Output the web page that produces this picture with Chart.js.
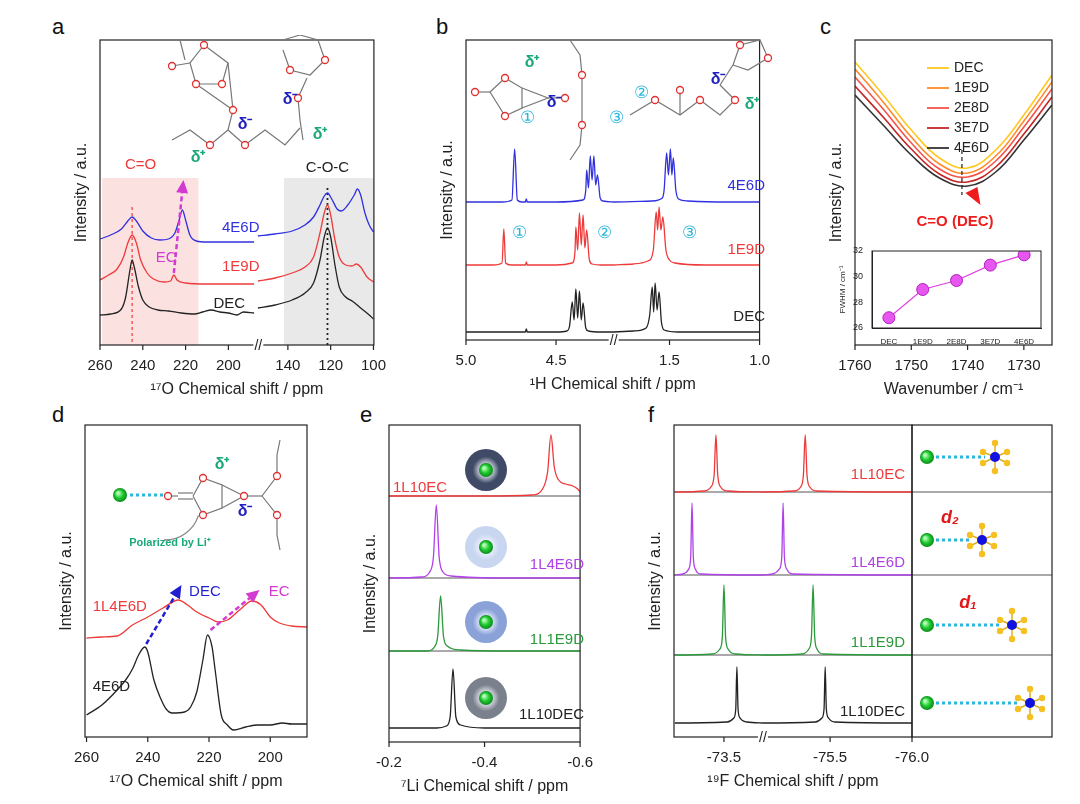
<!DOCTYPE html>
<html>
<head>
<meta charset="utf-8">
<script src="https://cdn.jsdelivr.net/npm/chart.js@4.4.1/dist/chart.umd.min.js"></script>
<style>
  body { margin: 0; width: 1080px; height: 804px; background: #fff; position: relative; overflow: hidden; font-family: "Liberation Sans", Arial, sans-serif; }
  canvas { position: absolute; }
  .lab { position: absolute; font-size: 22px; color: #111; }
</style>
</head>
<body>
<div class="lab" style="left:52px;top:14px">a</div>
<div class="lab" style="left:436px;top:14px">b</div>
<div class="lab" style="left:820px;top:14px">c</div>
<div class="lab" style="left:52px;top:402px">d</div>
<div class="lab" style="left:360px;top:402px">e</div>
<div class="lab" style="left:648px;top:402px">f</div>
<canvas id="ca" width="318" height="366" style="left:72px;top:35px"></canvas>
<canvas id="cb" width="336" height="361" style="left:438px;top:35px"></canvas>
<canvas id="cc" width="230" height="366" style="left:827px;top:35px"></canvas>
<canvas id="ci" width="210" height="100" style="left:838px;top:244px"></canvas>
<canvas id="cd" width="255" height="373" style="left:57px;top:420px"></canvas>
<canvas id="ce" width="236" height="378" style="left:361px;top:420px"></canvas>
<canvas id="cf" width="411" height="373" style="left:646px;top:420px"></canvas>
<script>
// ---------- data ----------
// panel a: 17O shift (ppm), left and right of the axis break
const aDEC_L = [[260,30],[255,31],[250,36],[248,48],[246,75],[245,85],[244,78],[242,58],[240,45],[237,38],[233,35],[228,34],[222,32],[216,31],[212,33],[208,35],[204,33],[200,32],[196,30],[193,33],[188,32]];
const aDEC_R = [[154,37],[146,40],[138,45],[132,52],[128,62],[125,85],[123,108],[121.5,117],[120,108],[118,80],[116,58],[113,48],[110,44],[106,37],[102,30],[100,26]];
const a1E9D_L = [[260,65],[256,70],[252,76],[249,88],[247,102],[245,110],[243,102],[241,85],[238,72],[235,66],[230,63],[227,64],[225.5,70],[224,65],[220,62],[210,61],[200,61],[188,61]];
const a1E9D_R = [[154,64],[146,67],[138,72],[132,78],[128,88],[125,112],[123,132],[121.5,140],[120,130],[118,105],[116,88],[113,80],[110,79],[108,81],[106,78],[103,68],[100,63]];
const a4E6D_L = [[260,106],[255,110],[250,116],[247,124],[245,128],[243,124],[240,114],[236,107],[232,105],[228,106],[225,112],[223,125],[221.5,135],[220,125],[218,110],[215,104],[210,103],[200,103],[188,103]];
const a4E6D_R = [[154,109],[146,111],[138,114],[132,120],[128,128],[125,140],[123,149],[121.5,152],[119.5,146],[117,136],[115,134],[112,140],[109,150],[107.5,156],[106,150],[104,132],[102,120],[100,113]];
const aTicks = [[260,"260"],[240,"240"],[220,"220"],[200,"200"],[140,"140"],[120,"120"],[100,"100"]];

// panel b: 1H shift (ppm)
const bDEC_L = [[5.0,8],[4.8,8],[4.67,8],[4.665,11],[4.66,8],[4.5,8],[4.44,9],[4.425,14],[4.41,38],[4.40,20],[4.39,51],[4.38,22],[4.37,49],[4.36,20],[4.35,37],[4.335,12],[4.32,9],[4.25,8],[4.18,8]];
const bDEC_R = [[1.81,8],[1.7,9],[1.63,12],[1.61,25],[1.596,53],[1.588,28],[1.58,57],[1.569,30],[1.558,48],[1.545,18],[1.53,10],[1.45,8],[1.3,8],[1.0,8]];
const b1E9D_L = [[5.0,75],[4.85,75],[4.80,77],[4.79,111],[4.78,77],[4.75,75],[4.67,75],[4.665,78],[4.66,75],[4.5,75],[4.41,77],[4.395,88],[4.39,113],[4.38,90],[4.37,127],[4.36,95],[4.35,125],[4.34,92],[4.33,110],[4.315,80],[4.3,76],[4.25,75],[4.18,75]];
const b1E9D_R = [[1.81,75],[1.7,76],[1.62,79],[1.59,90],[1.574,128],[1.566,110],[1.558,133],[1.548,110],[1.537,123],[1.52,90],[1.50,80],[1.47,77],[1.3,75],[1.0,75]];
const b4E6D_L = [[5.0,138],[4.8,138],[4.745,140],[4.73,191],[4.715,140],[4.69,138],[4.67,138],[4.665,141],[4.66,138],[4.5,138],[4.35,140],[4.335,150],[4.33,170],[4.32,152],[4.31,184],[4.30,160],[4.29,184],[4.28,155],[4.27,165],[4.255,142],[4.24,139],[4.18,138]];
const b4E6D_R = [[1.81,138],[1.6,139],[1.54,142],[1.53,150],[1.516,187],[1.506,165],[1.495,191],[1.487,165],[1.479,182],[1.465,150],[1.45,141],[1.4,139],[1.2,138],[1.0,138]];
const bTicks = [[5.0,"5.0"],[4.5,"4.5"],[1.5,"1.5"],[1.0,"1.0"]];

// panel c: FTIR
const cWave = [1760,1755,1750,1745,1740,1735,1730,1725];
const cDEC  = [283,250,215,187,177,195,230,270];
const c1E9D = [276,243,208,181,172,189,224,263];
const c2E8D = [268,236,202,176,168,184,218,256];
const c3E7D = [259,228,196,171,163,178,211,248];
const c4E6D = [250,220,190,167,159,173,205,240];
const cTicks = [1760,1750,1740,1730];
const iLabels = ["DEC","1E9D","2E8D","3E7D","4E6D"];
const iFWHM = [26.8,29.0,29.7,30.9,31.7];

// panel d: 17O shift
const d4E6D = [[260,22],[255,32],[250,47],[247,58],[245,68],[243,82],[241,90],[240,85],[238,57],[236,40],[234,28],[232,24],[228,25],[226,30],[224,45],[222,77],[220.5,102],[219,90],[218,67],[216,22],[214,12],[212,7],[208,10],[204,12],[200,12],[196,14],[193,13],[188,13]];
const d1L4E6D = [[260,99],[255,100],[250,101],[245,112],[240,120],[235,129],[230,137],[227,132],[224,125],[220,119],[217,115],[214,117],[210,127],[206,136],[203,132],[200,120],[197,114],[193,111],[188,110]];
const dTicks = [260,240,220,200];

// panel e: 7Li shift
const e1L10DEC = [[-0.2,14],[-0.3,14],[-0.32,16],[-0.328,25],[-0.334,73],[-0.34,25],[-0.35,17],[-0.4,14],[-0.5,14],[-0.6,14]];
const e1L1E9D = [[-0.2,91],[-0.28,91],[-0.295,95],[-0.302,106],[-0.308,146],[-0.314,106],[-0.322,96],[-0.35,92],[-0.45,91],[-0.6,91]];
const e1L4E6D = [[-0.2,164],[-0.27,165],[-0.285,170],[-0.293,185],[-0.299,237],[-0.305,185],[-0.313,170],[-0.33,166],[-0.45,164],[-0.6,164]];
const e1L10EC = [[-0.2,246],[-0.4,246],[-0.5,247],[-0.52,252],[-0.532,270],[-0.539,307],[-0.546,275],[-0.555,262],[-0.57,258],[-0.585,256],[-0.595,253],[-0.6,250]];
const eTicks = [-0.2,-0.4,-0.6];

// panel f: 19F shift
const f1L10EC_L = [[-73.2,245],[-73.38,246],[-73.42,250],[-73.44,262],[-73.451,302],[-73.462,262],[-73.48,250],[-73.52,246],[-73.74,245]];
const f1L10EC_R = [[-75.09,245],[-75.28,246],[-75.32,250],[-75.337,262],[-75.348,302],[-75.359,262],[-75.376,250],[-75.42,246],[-76.0,245]];
const f1L4E6D_L = [[-73.2,162],[-73.25,163],[-73.285,168],[-73.297,180],[-73.305,234],[-73.313,180],[-73.325,168],[-73.36,163],[-73.74,162]];
const f1L4E6D_R = [[-75.09,162],[-75.15,163],[-75.19,168],[-75.205,180],[-75.213,234],[-75.221,180],[-75.235,168],[-75.27,163],[-76.0,162]];
const f1L1E9D_L = [[-73.2,82],[-73.43,83],[-73.475,88],[-73.49,100],[-73.5,152],[-73.51,100],[-73.525,88],[-73.57,83],[-73.74,82]];
const f1L1E9D_R = [[-75.09,82],[-75.33,83],[-75.37,88],[-75.386,100],[-75.396,152],[-75.406,100],[-75.42,88],[-75.46,83],[-76.0,82]];
const f1L10DEC_L = [[-73.2,14],[-73.52,15],[-73.56,19],[-73.572,28],[-73.579,70],[-73.586,28],[-73.598,19],[-73.64,15],[-73.74,14]];
const f1L10DEC_R = [[-75.09,14],[-75.41,15],[-75.45,19],[-75.463,28],[-75.47,70],[-75.477,28],[-75.49,19],[-75.53,15],[-76.0,14]];
const fTicks = [[-73.5,"-73.5"],[-75.5,"-75.5"],[-76.0,"-76.0"]];

// ---------- helpers ----------
const FONT = "Liberation Sans";
const RED = "#ee3a3a", BLUE = "#3030e0", BLK = "#222", MAG = "#d23ad2", PUR = "#b040e8", GRN = "#2a9a3a", CYAN = "#2bb6dc";

function pts(a, off) { return a.map(p => ({ x: p[0] + (off || 0), y: p[1] })); }
function broken(L, R, brk, off) { return pts(L).concat([{ x: brk, y: null }], pts(R, off)); }
function line(data, color) {
  return { data, borderColor: color, borderWidth: 1.3, pointRadius: 0, cubicInterpolationMode: "monotone", spanGaps: false };
}
function txt(ctx, s, x, y, color, size, align, weight) {
  ctx.save();
  ctx.fillStyle = color; ctx.font = (weight || "") + " " + (size || 15) + "px " + FONT;
  ctx.textAlign = align || "left"; ctx.textBaseline = "middle";
  ctx.fillText(s, x, y); ctx.restore();
}
function arrow(ctx, x1, y1, x2, y2, color) {
  ctx.save();
  ctx.strokeStyle = color; ctx.fillStyle = color; ctx.lineWidth = 2.5; ctx.setLineDash([5, 3]);
  const a = Math.atan2(y2 - y1, x2 - x1);
  ctx.beginPath(); ctx.moveTo(x1, y1); ctx.lineTo(x2 - 8 * Math.cos(a), y2 - 8 * Math.sin(a)); ctx.stroke();
  ctx.setLineDash([]);
  ctx.beginPath(); ctx.moveTo(x2, y2);
  ctx.lineTo(x2 - 13 * Math.cos(a) + 6 * Math.sin(a), y2 - 13 * Math.sin(a) - 6 * Math.cos(a));
  ctx.lineTo(x2 - 13 * Math.cos(a) - 6 * Math.sin(a), y2 - 13 * Math.sin(a) + 6 * Math.cos(a));
  ctx.closePath(); ctx.fill(); ctx.restore();
}
function ball(ctx, x, y, r) {
  const g = ctx.createRadialGradient(x - r * 0.3, y - r * 0.3, 1, x, y, r);
  g.addColorStop(0, "#b8ffb8"); g.addColorStop(0.5, "#22cc33"); g.addColorStop(1, "#0a8a1a");
  ctx.fillStyle = g; ctx.beginPath(); ctx.arc(x, y, r, 0, Math.PI * 2); ctx.fill();
}
function brkMark(ctx, ch, px) {
  const y = ch.chartArea.bottom;
  ctx.save();
  ctx.fillStyle = "#fff"; ctx.fillRect(px - 5, y - 2, 10, 4);
  txt(ctx, "//", px, y + 1, BLK, 14, "center");
  ctx.restore();
}
// skeletal molecule fragments (decoration): list of page-coord polylines and O atoms
function skel(ctx, P, lines, oxy) {
  ctx.save(); ctx.strokeStyle = "#777"; ctx.lineWidth = 1.2;
  lines.forEach(l => { ctx.beginPath(); l.forEach((p, i) => { const q = P(p[0], p[1]); i ? ctx.lineTo(q[0], q[1]) : ctx.moveTo(q[0], q[1]); }); ctx.stroke(); });
  ctx.strokeStyle = "#e03030"; ctx.fillStyle = "#fff"; ctx.lineWidth = 1.3;
  oxy.forEach(o => { const q = P(o[0], o[1]); ctx.beginPath(); ctx.arc(q[0], q[1], 3.5, 0, Math.PI * 2); ctx.fill(); ctx.stroke(); });
  ctx.restore();
}

function spectrum(id, datasets, o) {
  const el = document.getElementById(id);
  const off = { x: parseFloat(el.style.left), y: parseFloat(el.style.top) };
  const P = (px, py) => [px - off.x, py - off.y];
  const tk = o.ticks.map(t => Array.isArray(t) ? t : [t, String(t)]);
  return new Chart(el, {
    type: "line",
    data: { datasets },
    options: {
      responsive: false, animation: false,
      layout: { padding: { top: 5, right: o.padRight || 5, left: 0, bottom: 0 } },
      plugins: { legend: { display: false }, tooltip: { enabled: false } },
      scales: {
        x: {
          type: "linear", reverse: true, min: o.xmin, max: o.xmax,
          grid: { display: false }, border: { display: false },
          afterBuildTicks: s => { s.ticks = tk.map(t => ({ value: t[0] })); },
          afterFit: s => { s.height = 56; },
          ticks: { color: BLK, font: { family: FONT, size: 15 }, padding: 4, autoSkip: false, maxRotation: 0,
                   callback: (v, i) => tk[i] ? tk[i][1] : "" },
          title: { display: true, text: o.title, color: BLK, font: { family: FONT, size: 16 }, padding: { top: 2, bottom: 2 } }
        },
        y: {
          min: o.ymin || 0, max: o.ymax,
          grid: { display: false }, border: { display: false },
          afterFit: s => { s.width = 28; },
          ticks: { display: false },
          title: { display: true, text: "Intensity / a.u.", color: BLK, font: { family: FONT, size: 16 }, padding: 0 }
        }
      }
    },
    plugins: [{
      id: "deco" + id,
      beforeDatasetsDraw(ch) {
        if (o.under) o.under(ch, ch.ctx, ch.scales.x, ch.scales.y, P);
      },
      afterDraw(ch) {
        const ctx = ch.ctx, a = ch.chartArea, X = ch.scales.x;
        ctx.save();
        ctx.strokeStyle = BLK; ctx.lineWidth = 1.2;
        ctx.strokeRect(a.left, a.top, a.right - a.left, a.bottom - a.top);
        tk.forEach(t => { const px = X.getPixelForValue(t[0]); ctx.beginPath(); ctx.moveTo(px, a.bottom); ctx.lineTo(px, a.bottom + 5); ctx.stroke(); });
        ctx.restore();
        if (o.draw) o.draw(ch, ctx, X, ch.scales.y, P);
      }
    }]
  });
}

// ---------- panel a ----------
const aOff = 32.2, aBrk = 186;
spectrum("ca", [
  line(broken(a4E6D_L, a4E6D_R, aBrk, aOff), BLUE),
  line(broken(a1E9D_L, a1E9D_R, aBrk, aOff), RED),
  line(broken(aDEC_L, aDEC_R, aBrk, aOff), BLK)
], {
  xmin: 132, xmax: 260, ymax: 305, title: "¹⁷O Chemical shift / ppm",
  ticks: aTicks.map(t => [t[0] < 180 ? t[0] + aOff : t[0], t[1]]),
  under(ch, ctx, X, Y) {
    const a = ch.chartArea;
    ctx.save();
    ctx.fillStyle = "rgba(250,200,200,0.55)";
    ctx.fillRect(X.getPixelForValue(259), Y.getPixelForValue(167), X.getPixelForValue(214) - X.getPixelForValue(259), a.bottom - Y.getPixelForValue(167));
    ctx.fillStyle = "rgba(215,215,215,0.55)";
    ctx.fillRect(X.getPixelForValue(174), Y.getPixelForValue(167), a.right - X.getPixelForValue(174), a.bottom - Y.getPixelForValue(167));
    ctx.lineWidth = 1.2; ctx.setLineDash([3, 3]);
    ctx.strokeStyle = RED;
    ctx.beginPath(); ctx.moveTo(X.getPixelForValue(245), Y.getPixelForValue(138)); ctx.lineTo(X.getPixelForValue(245), a.bottom); ctx.stroke();
    ctx.strokeStyle = BLK; ctx.lineWidth = 1.8; ctx.setLineDash([2, 3]);
    ctx.beginPath(); ctx.moveTo(X.getPixelForValue(121.5 + aOff), Y.getPixelForValue(157)); ctx.lineTo(X.getPixelForValue(121.5 + aOff), a.bottom); ctx.stroke();
    ctx.restore();
  },
  draw(ch, ctx, X, Y, P) {
    brkMark(ctx, ch, X.getPixelForValue(aBrk));
    txt(ctx, "4E6D", X.getPixelForValue(203), Y.getPixelForValue(117), BLUE, 15);
    txt(ctx, "1E9D", X.getPixelForValue(203), Y.getPixelForValue(78), RED, 15);
    txt(ctx, "DEC", X.getPixelForValue(207), Y.getPixelForValue(41), BLK, 15);
    txt(ctx, "EC", X.getPixelForValue(234), Y.getPixelForValue(87), MAG, 15);
    txt(ctx, "C=O", X.getPixelForValue(241), Y.getPixelForValue(180), RED, 15, "center");
    txt(ctx, "C-O-C", X.getPixelForValue(121.5 + aOff), Y.getPixelForValue(177), BLK, 15, "center");
    arrow(ctx, X.getPixelForValue(225.5), Y.getPixelForValue(72), X.getPixelForValue(221), Y.getPixelForValue(165), MAG);
    skel(ctx, P,
      [[[204, 45], [190, 63], [196, 84], [222, 84], [228, 63], [204, 45]], [[190, 63], [172, 66]],
       [[228, 63], [233, 110]], [[196, 84], [233, 110]], [[233, 110], [228, 130]],
       [[228, 130], [210, 145], [190, 130], [172, 140]], [[228, 130], [245, 145], [265, 130], [285, 145], [300, 128]],
       [[283, 40], [300, 35], [318, 40], [325, 60], [310, 75], [290, 70], [283, 50]], [[307, 78], [298, 98]],
       [[298, 98], [300, 120], [303, 140]], [[180, 40], [185, 60]]],
      [[204, 45], [172, 66], [222, 84], [196, 84], [210, 145], [245, 145], [233, 110], [298, 98], [325, 60], [290, 70]]);
    let q;
    q = P(198, 158); txt(ctx, "δ⁺", q[0], q[1], "#1aa878", 16, "center", "bold");
    q = P(245, 125); txt(ctx, "δ⁻", q[0], q[1], "#2020c0", 16, "center", "bold");
    q = P(290, 100); txt(ctx, "δ⁻", q[0], q[1], "#2020c0", 16, "center", "bold");
    q = P(320, 135); txt(ctx, "δ⁺", q[0], q[1], "#1aa878", 16, "center", "bold");
  }
});

// ---------- panel b ----------
const bOff = 2.37, bBrk = 4.18;
spectrum("cb", [
  line(broken(b4E6D_L, b4E6D_R, bBrk, bOff), BLUE),
  line(broken(b1E9D_L, b1E9D_R, bBrk, bOff), RED),
  line(broken(bDEC_L, bDEC_R, bBrk, bOff), BLK)
], {
  xmin: 3.37, xmax: 5.0, ymax: 300, title: "¹H Chemical shift / ppm",
  ticks: bTicks.map(t => [t[0] < 2 ? t[0] + bOff : t[0], t[1]]),
  draw(ch, ctx, X, Y, P) {
    brkMark(ctx, ch, X.getPixelForValue(bBrk));
    skel(ctx, P,
      [[[490, 92], [505, 78], [522, 88], [522, 108], [505, 116], [490, 92]], [[490, 92], [475, 92]],
       [[522, 88], [548, 98], [522, 108]], [[548, 98], [565, 98]],
       [[570, 40], [580, 55], [582, 75], [582, 100], [582, 125], [580, 145], [570, 160]],
       [[630, 115], [655, 100], [680, 115], [700, 100], [720, 115], [735, 100]], [[680, 115], [680, 90]],
       [[735, 100], [720, 85]], [[720, 85], [733, 65]], [[733, 65], [740, 45], [760, 40], [768, 58], [748, 70], [733, 65]]],
      [[505, 78], [505, 116], [475, 92], [565, 98], [582, 75], [582, 125], [655, 100], [700, 100], [680, 90], [735, 100], [740, 45], [768, 58]]);
    let q;
    q = P(765, 186); txt(ctx, "4E6D", q[0], q[1], BLUE, 15, "right");
    q = P(765, 250); txt(ctx, "1E9D", q[0], q[1], RED, 15, "right");
    q = P(765, 317); txt(ctx, "DEC", q[0], q[1], BLK, 15, "right");
    [[519, 233, "①"], [604, 233, "②"], [689, 233, "③"], [527, 118, "①"], [641, 93, "②"], [616, 118, "③"]].forEach(c => {
      q = P(c[0], c[1]); txt(ctx, c[2], q[0], q[1], CYAN, 17, "center");
    });
    q = P(532, 63); txt(ctx, "δ⁺", q[0], q[1], "#1aa878", 16, "center", "bold");
    q = P(554, 103); txt(ctx, "δ⁻", q[0], q[1], "#2020c0", 16, "center", "bold");
    q = P(718, 80); txt(ctx, "δ⁻", q[0], q[1], "#2020c0", 16, "center", "bold");
    q = P(752, 105); txt(ctx, "δ⁺", q[0], q[1], "#1aa878", 16, "center", "bold");
  }
});

// ---------- panel c ----------
const cCol = ["#ffc822", "#ff8a2a", "#f5544a", "#c42626", "#333333"];
const cSer = [cDEC, c1E9D, c2E8D, c3E7D, c4E6D];
const cNames = ["DEC", "1E9D", "2E8D", "3E7D", "4E6D"];
spectrum("cc", cSer.map((s, i) => {
  const d = line(s.map((v, j) => ({ x: cWave[j], y: v })), cCol[i]);
  d.cubicInterpolationMode = "default"; d.tension = 0.4; d.borderWidth = 1.6;
  return d;
}), {
  xmin: 1725, xmax: 1760, ymax: 305, title: "Wavenumber / cm⁻¹", ticks: cTicks,
  draw(ch, ctx, X, Y, P) {
    let q;
    cNames.forEach((n, i) => {
      q = P(927, 68 + i * 20);
      ctx.save(); ctx.strokeStyle = cCol[i]; ctx.lineWidth = 1.8;
      ctx.beginPath(); ctx.moveTo(q[0], q[1]); ctx.lineTo(q[0] + 22, q[1]); ctx.stroke(); ctx.restore();
      txt(ctx, n, q[0] + 27, q[1], BLK, 14);
    });
    ctx.save(); ctx.strokeStyle = "#222"; ctx.lineWidth = 1.2; ctx.setLineDash([4, 3]);
    const xx = X.getPixelForValue(1741);
    ctx.beginPath(); ctx.moveTo(xx, Y.getPixelForValue(195)); ctx.lineTo(xx, Y.getPixelForValue(150)); ctx.stroke(); ctx.restore();
    ctx.save(); ctx.fillStyle = "#ee1c1c";
    const ax = X.getPixelForValue(1738.6), ay = Y.getPixelForValue(150);
    ctx.beginPath(); ctx.moveTo(ax + 5, ay + 10); ctx.lineTo(ax - 10, ay - 2); ctx.lineTo(ax + 2, ay - 8); ctx.closePath(); ctx.fill(); ctx.restore();
    q = P(955, 222); txt(ctx, "C=O (DEC)", q[0], q[1], "#ee1c1c", 15, "center", "bold");
  }
});

// inset FWHM
new Chart(document.getElementById("ci"), {
  type: "line",
  data: { labels: iLabels, datasets: [{
    data: iFWHM, borderColor: "#e040e0", borderWidth: 1.2, pointRadius: 6,
    pointBackgroundColor: "#e856f0", pointBorderColor: "#b020c0", pointBorderWidth: 1
  }] },
  options: {
    responsive: false, animation: false,
    layout: { padding: { top: 6, right: 6 } },
    plugins: { legend: { display: false }, tooltip: { enabled: false } },
    scales: {
      x: { offset: true, grid: { display: false }, border: { color: BLK },
           afterFit: s => { s.height = 16; },
           ticks: { color: BLK, font: { family: FONT, size: 8 }, padding: 1, maxRotation: 0, autoSkip: false } },
      y: { min: 26, max: 32, grid: { display: false }, border: { color: BLK },
           afterFit: s => { s.width = 34; },
           ticks: { stepSize: 2, color: BLK, font: { family: FONT, size: 9 }, padding: 1 },
           title: { display: true, text: "FWHM / cm⁻¹", color: BLK, font: { family: FONT, size: 8 }, padding: 0 } }
    }
  },
  plugins: [{ id: "frame", afterDraw(ch) { const a = ch.chartArea, c = ch.ctx; c.save(); c.strokeStyle = BLK; c.strokeRect(a.left, a.top, a.right - a.left, a.bottom - a.top); c.restore(); } }]
});

// ---------- panel d ----------
spectrum("cd", [line(pts(d1L4E6D), RED), line(pts(d4E6D), BLK)], {
  xmin: 188, xmax: 260.5, ymax: 312, title: "¹⁷O Chemical shift / ppm", ticks: dTicks,
  draw(ch, ctx, X, Y, P) {
    txt(ctx, "1L4E6D", X.getPixelForValue(258), Y.getPixelForValue(130), RED, 15);
    txt(ctx, "4E6D", X.getPixelForValue(258), Y.getPixelForValue(50), BLK, 15);
    arrow(ctx, X.getPixelForValue(240.5), Y.getPixelForValue(93), X.getPixelForValue(229), Y.getPixelForValue(152), "#1f1fd0");
    arrow(ctx, X.getPixelForValue(219.5), Y.getPixelForValue(107), X.getPixelForValue(203.5), Y.getPixelForValue(147), MAG);
    txt(ctx, "DEC", X.getPixelForValue(226.5), Y.getPixelForValue(145), "#1f1fd0", 15);
    txt(ctx, "EC", X.getPixelForValue(200.5), Y.getPixelForValue(145), MAG, 15);
    skel(ctx, P,
      [[[168, 496], [178, 496]], [[178, 493], [193, 493]], [[178, 499], [193, 499]],
       [[193, 496], [203, 478], [222, 485], [222, 508], [203, 515], [193, 496]],
       [[222, 485], [244, 496], [222, 508]], [[244, 496], [262, 496]],
       [[262, 496], [277, 476], [277, 455], [280, 440]], [[262, 496], [277, 515], [277, 535], [280, 550]]],
      [[168, 496], [203, 478], [203, 515], [244, 496], [277, 476], [277, 515]]);
    ctx.save(); ctx.strokeStyle = "#888"; ctx.lineWidth = 1.3;
    let q = P(190, 530); ctx.beginPath(); ctx.arc(q[0] - 25, q[1] - 25, 35, 0.3, 1.6); ctx.stroke(); ctx.restore();
    q = P(120, 495); ball(ctx, q[0], q[1], 7);
    ctx.save(); ctx.strokeStyle = CYAN; ctx.lineWidth = 3; ctx.setLineDash([3, 3]);
    ctx.beginPath(); ctx.moveTo(q[0] + 10, q[1]); ctx.lineTo(q[0] + 45, q[1]); ctx.stroke(); ctx.restore();
    q = P(222, 465); txt(ctx, "δ⁺", q[0], q[1], "#1aa878", 16, "center", "bold");
    q = P(245, 512); txt(ctx, "δ⁻", q[0], q[1], "#2020c0", 16, "center", "bold");
    q = P(170, 543); txt(ctx, "Polarized by Li⁺", q[0], q[1], "#1aa878", 11, "center", "bold");
  }
});

// ---------- panel e ----------
const eSep = [246, 164, 91];
spectrum("ce", [line(pts(e1L10EC), RED), line(pts(e1L4E6D), PUR), line(pts(e1L1E9D), GRN), line(pts(e1L10DEC), BLK)], {
  xmin: -0.6, xmax: -0.2, ymax: 317, title: "⁷Li Chemical shift / ppm",
  ticks: eTicks.map(t => [t, t.toFixed(1)]),
  under(ch, ctx, X, Y, P) {
    const a = ch.chartArea;
    ctx.save(); ctx.strokeStyle = "#555"; ctx.lineWidth = 1;
    eSep.forEach(v => { const y = Y.getPixelForValue(v); ctx.beginPath(); ctx.moveTo(a.left, y); ctx.lineTo(a.right, y); ctx.stroke(); });
    ctx.restore();
    [[470, "#3e4a66"], [547, "#c9d6f0"], [622, "#8aa2d8"], [698, "#7b818c"]].forEach(s => {
      const q = P(486, s[0]);
      const g = ctx.createRadialGradient(q[0], q[1], 4, q[0], q[1], 21);
      g.addColorStop(0, "#f4f7ff"); g.addColorStop(0.55, s[1]); g.addColorStop(1, s[1]);
      ctx.fillStyle = g; ctx.beginPath(); ctx.arc(q[0], q[1], 21, 0, Math.PI * 2); ctx.fill();
      ball(ctx, q[0], q[1], 7);
    });
  },
  draw(ch, ctx, X, Y, P) {
    let q;
    q = P(393, 488); txt(ctx, "1L10EC", q[0], q[1], RED, 15);
    q = P(584, 565); txt(ctx, "1L4E6D", q[0], q[1], PUR, 15, "right");
    q = P(584, 640); txt(ctx, "1L1E9D", q[0], q[1], GRN, 15, "right");
    q = P(584, 715); txt(ctx, "1L10DEC", q[0], q[1], BLK, 15, "right");
  }
});

// ---------- panel f ----------
const fOff = 1.352, fBrk = -73.738;
const fSep = [245, 162, 82];
spectrum("cf", [
  line(broken(f1L10EC_L, f1L10EC_R, fBrk, fOff), RED),
  line(broken(f1L4E6D_L, f1L4E6D_R, fBrk, fOff), PUR),
  line(broken(f1L1E9D_L, f1L1E9D_R, fBrk, fOff), GRN),
  line(broken(f1L10DEC_L, f1L10DEC_R, fBrk, fOff), BLK)
], {
  xmin: -74.648, xmax: -73.195, ymax: 312, padRight: 145, title: "¹⁹F Chemical shift / ppm",
  ticks: fTicks.map(t => [t[0] < -74 ? t[0] + fOff : t[0], t[1]]),
  under(ch, ctx, X, Y) {
    const a = ch.chartArea;
    ctx.save(); ctx.strokeStyle = "#555"; ctx.lineWidth = 1;
    fSep.forEach(v => { const y = Y.getPixelForValue(v); ctx.beginPath(); ctx.moveTo(a.left, y); ctx.lineTo(a.right + 140, y); ctx.stroke(); });
    ctx.restore();
  },
  draw(ch, ctx, X, Y, P) {
    const a = ch.chartArea;
    brkMark(ctx, ch, X.getPixelForValue(fBrk));
    ctx.save(); ctx.strokeStyle = BLK; ctx.lineWidth = 1.2;
    ctx.strokeRect(a.right, a.top, 140, Y.getPixelForValue(14) - a.top + 14);
    ctx.restore();
    let q;
    q = P(905, 475); txt(ctx, "1L10EC", q[0], q[1], RED, 15, "right");
    q = P(905, 563); txt(ctx, "1L4E6D", q[0], q[1], PUR, 15, "right");
    q = P(905, 643); txt(ctx, "1L1E9D", q[0], q[1], GRN, 15, "right");
    q = P(905, 712); txt(ctx, "1L10DEC", q[0], q[1], BLK, 15, "right");
    [[457, 995], [540, 982], [625, 1012], [703, 1030]].forEach(r => {
      const b = P(927, r[0]), c = P(r[1], r[0]);
      ctx.save(); ctx.strokeStyle = CYAN; ctx.lineWidth = 3; ctx.setLineDash([3, 3]);
      ctx.beginPath(); ctx.moveTo(b[0] + 9, b[1]); ctx.lineTo(c[0] - 10, c[1]); ctx.stroke(); ctx.restore();
      ball(ctx, b[0], b[1], 7);
      ctx.save(); ctx.strokeStyle = "#d8b020"; ctx.lineWidth = 1.5; ctx.fillStyle = "#f5c020";
      [[0, -14], [0, 14], [-12, -5], [12, -5], [-12, 6], [12, 6]].forEach(f => {
        ctx.beginPath(); ctx.moveTo(c[0], c[1]); ctx.lineTo(c[0] + f[0], c[1] + f[1]); ctx.stroke();
        ctx.beginPath(); ctx.arc(c[0] + f[0], c[1] + f[1], 3.2, 0, Math.PI * 2); ctx.fill();
      });
      ctx.fillStyle = "#1010e0"; ctx.beginPath(); ctx.arc(c[0], c[1], 5, 0, Math.PI * 2); ctx.fill();
      ctx.restore();
    });
    q = P(950, 518); txt(ctx, "d₂", q[0], q[1], "#e01818", 18, "center", "italic bold");
    q = P(968, 603); txt(ctx, "d₁", q[0], q[1], "#e01818", 18, "center", "italic bold");
  }
});
</script>
</body>
</html>
